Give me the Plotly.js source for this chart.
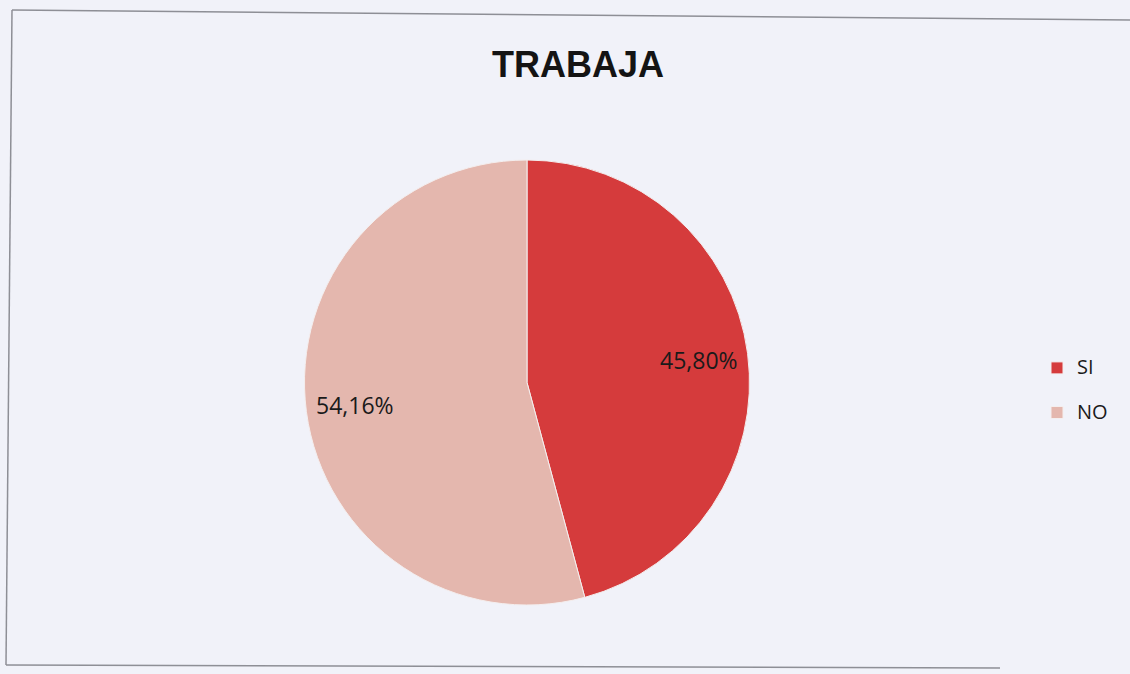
<!DOCTYPE html>
<html>
<head>
<meta charset="utf-8">
<script src="https://cdn.plot.ly/plotly-3.0.1.min.js"></script>
<style>
html,body{margin:0;padding:0;background:#f1f2f9;}
#chart{width:1130px;height:674px;}
</style>
</head>
<body>
<div id="chart"></div>
<script>
var categories = ["SI", "NO"];
var values = [45.80, 54.16];
var valueLabels = ["45,80%", "54,16%"];
var colors = ["#d53b3c", "#e4b7ae"];

var W = 1130, H = 674;
function px(x){ return x / W; }
function py(y){ return 1 - y / H; }

// pie placement (pixels)
var pieLeft = 304, pieRight = 750, pieTop = 160, pieBottom = 605;
var cx = (pieLeft + pieRight) / 2, cy = (pieTop + pieBottom) / 2;
var R = Math.min(pieRight - pieLeft, pieBottom - pieTop) / 2;

// legend labels: larger visible text plus an empty second line for spacing
var legendLabels = categories.map(function(c){
  return "<span style=\"font-size:20px\">" + c + "</span><br> ";
});

var trace = {
  type: "pie",
  labels: legendLabels,
  values: values,
  text: valueLabels,
  textinfo: "none",
  sort: false,
  direction: "clockwise",
  rotation: 0,
  hoverinfo: "text",
  marker: { colors: colors, line: { color: "#f4eeee", width: 1 } },
  domain: { x: [px(pieLeft), px(pieRight)], y: [py(pieBottom), py(pieTop)] }
};

// value labels placed at slice mid-angles, computed from the data
var total = values.reduce(function(a, b){ return a + b; }, 0);
var cum = 0;
var annotations = values.map(function(v, i){
  var mid = (cum + v / 2) / total * 2 * Math.PI;
  cum += v;
  var r = 0.78 * R;
  return {
    xref: "paper", yref: "paper",
    x: px(cx + r * Math.sin(mid)), y: py(cy - r * Math.cos(mid)),
    text: valueLabels[i], showarrow: false,
    xanchor: "center", yanchor: "middle",
    font: { family: "Open Sans, Liberation Sans, sans-serif", size: 23, color: "#1a1a1a" }
  };
});

var lineColor = "#8e8f96";
var layout = {
  width: W, height: H,
  margin: { l: 0, r: 0, t: 0, b: 0 },
  paper_bgcolor: "#f1f2f9",
  plot_bgcolor: "#f1f2f9",
  title: {
    text: "<b>TRABAJA</b>",
    font: { family: "Liberation Sans, Arial, sans-serif", size: 36, color: "#141414" },
    x: px(578), xanchor: "center",
    y: py(64), yanchor: "middle"
  },
  showlegend: true,
  legend: {
    x: px(1037), xanchor: "left",
    y: py(351), yanchor: "top",
    valign: "top",
    font: { family: "Open Sans, Liberation Sans, sans-serif", size: 16, color: "#1a1a1a" },
    bgcolor: "rgba(0,0,0,0)",
    itemwidth: 30,
    tracegroupgap: 0
  },
  annotations: annotations,
  shapes: [
    { type: "line", xref: "paper", yref: "paper", x0: px(12), y0: py(10), x1: px(1130), y1: py(20), line: { color: lineColor, width: 1.5 } },
    { type: "line", xref: "paper", yref: "paper", x0: px(12), y0: py(10), x1: px(6), y1: py(665), line: { color: lineColor, width: 1.5 } },
    { type: "line", xref: "paper", yref: "paper", x0: px(6), y0: py(665), x1: px(1000), y1: py(668), line: { color: lineColor, width: 1.5 } }
  ]
};

Plotly.newPlot("chart", [trace], layout, { displayModeBar: false, staticPlot: true });
</script>
</body>
</html>
